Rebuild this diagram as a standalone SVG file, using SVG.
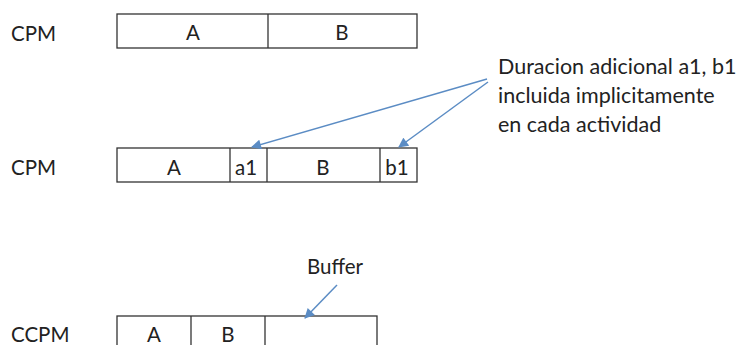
<svg xmlns="http://www.w3.org/2000/svg" width="750" height="345" viewBox="0 0 750 345">
  <style>
    .lbl { font-family: Lato, "Liberation Sans", sans-serif; font-size: 20.5px; fill: #222; }
    .mid { text-anchor: middle; }
    .note { font-family: Lato, "Liberation Sans", sans-serif; font-size: 21.5px; fill: #222; }
    .bar { fill: #fff; stroke: #333; stroke-width: 1.3; }
    .div { stroke: #333; stroke-width: 1.3; }
    .arr { stroke: #5b8cc4; stroke-width: 1.5; fill: none; marker-end: url(#tip); }
  </style>
  <defs>
    <marker id="tip" viewBox="0 0 10 10" refX="9" refY="5" markerWidth="11" markerHeight="10" orient="auto" markerUnits="userSpaceOnUse">
      <path d="M0,0 L10,5 L0,10 z" fill="#5b8cc4"/>
    </marker>
  </defs>
  <rect width="750" height="345" fill="#fff"/>

  <!-- Plain CPM schedule -->
  <g id="cpm1">
    <text class="lbl" x="11" y="41">CPM</text>
    <rect class="bar" x="117" y="14" width="300" height="34"/>
    <line class="div" x1="268" y1="14" x2="268" y2="48"/>
    <text class="lbl mid" x="193" y="40">A</text>
    <text class="lbl mid" x="342" y="40">B</text>
  </g>

  <!-- CPM with implicit extra durations -->
  <g id="cpm2">
    <text class="lbl" x="11" y="175">CPM</text>
    <rect class="bar" x="117" y="148" width="300" height="34"/>
    <line class="div" x1="230" y1="148" x2="230" y2="182"/>
    <line class="div" x1="267" y1="148" x2="267" y2="182"/>
    <line class="div" x1="380" y1="148" x2="380" y2="182"/>
    <text class="lbl mid" x="174" y="175">A</text>
    <text class="lbl mid" x="246" y="175">a1</text>
    <text class="lbl mid" x="323" y="175">B</text>
    <text class="lbl mid" x="397" y="175">b1</text>
  </g>

  <!-- Annotation -->
  <g id="note">
    <text class="note" x="498" y="74">Duracion adicional a1, b1</text>
    <text class="note" x="498" y="103">incluida implicitamente</text>
    <text class="note" x="498" y="132">en cada actividad</text>
  </g>

  <!-- CCPM schedule with buffer -->
  <g id="ccpm">
    <text class="lbl" x="11" y="342">CCPM</text>
    <rect class="bar" x="117" y="316" width="260" height="40"/>
    <line class="div" x1="191" y1="316" x2="191" y2="345"/>
    <line class="div" x1="265" y1="316" x2="265" y2="345"/>
    <text class="lbl mid" x="154" y="342">A</text>
    <text class="lbl mid" x="228" y="342">B</text>
  </g>

  <g id="buffer">
    <text class="lbl" x="307" y="274">Buffer</text>
  </g>

  <g id="connectors">
    <line class="arr" x1="487" y1="79" x2="252" y2="147"/>
    <line class="arr" x1="488" y1="82" x2="399" y2="147"/>
    <line class="arr" x1="337" y1="285" x2="305" y2="318"/>
  </g>
</svg>
